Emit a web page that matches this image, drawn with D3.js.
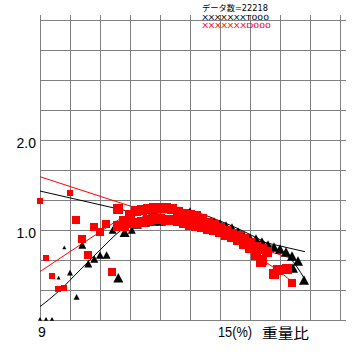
<!DOCTYPE html>
<html><head><meta charset="utf-8">
<script src="https://cdn.jsdelivr.net/npm/d3@7"></script>
<style>html,body{margin:0;padding:0;background:#fff;} svg{display:block;}</style>
</head><body>
<svg id="c" width="360" height="360"></svg>
<script>
// ---- data ----
const xDomain = [9, 19];
const yDomain = [0, 10 / 3];
const xGridValues = d3.range(9, 20, 1);
const yGridValues = d3.range(0, 11).map(i => i / 3);
const xTickValues = [9, 15];
const xTickLabels = ["9", "15(%)"];
const yTickValues = [1, 2];
const yTickLabels = ["1.0", "2.0"];
const xAxisTitle = "重量比";
const infoLines = ["データ数=22218", "XXXXXXXT000", "XXXXXXXD000"];
const infoColors = ["#000", "#000", "#f00"];

// [x, y, weight]
const redSquares = [
  [9.00,1.326,2],[10.00,1.408,2],[10.20,1.114,3],[10.80,1.037,3],[11.00,0.981,3],[11.20,1.070,3],
  [10.39,0.897,3],[9.20,0.692,2],[10.60,0.726,3],[9.40,0.489,2],[9.61,0.348,2],[9.79,0.359,2],
  [11.39,0.537,3],[11.59,1.233,4],[11.80,1.081,3],
  [11.6,1.044,4],
  [11.8,1.100,4],[11.8,1.044,4],
  [12.0,1.167,4],[12.0,1.078,4],
  [12.2,1.211,4],[12.2,1.078,4],
  [12.4,1.222,4],[12.4,1.089,4],
  [12.6,1.233,4],[12.6,1.111,4],
  [12.8,1.244,4],[12.8,1.122,4],
  [13.0,1.244,4],[13.0,1.122,4],
  [13.2,1.244,4],[13.2,1.111,4],
  [13.4,1.233,4],[13.4,1.111,4],
  [13.6,1.200,4],[13.6,1.100,4],
  [13.8,1.178,4],[13.8,1.078,4],
  [14.0,1.167,4],[14.0,1.056,4],
  [14.2,1.156,4],[14.2,1.044,4],
  [14.4,1.122,4],[14.4,1.033,4],
  [14.6,1.078,4],[14.6,1.011,4],
  [14.8,1.056,4],[14.8,1.000,4],
  [15.0,1.022,4],[15.0,0.978,4],
  [15.2,0.989,4],[15.2,0.944,4],
  [15.4,0.956,4],[15.4,0.922,4],
  [15.6,0.933,4],[15.6,0.889,4],
  [15.8,0.900,4],[15.8,0.844,4],
  [16.0,0.856,4],[16.0,0.800,4],
  [16.2,0.811,4],[16.2,0.722,4],
  [16.4,0.789,4],[16.4,0.667,4],
  [16.367,0.641,4],[16.577,0.759,4],[16.79,0.508,4],[16.943,0.556,4],[17.223,0.563,4],[17.4,0.408,3]
];

const blackTriangles = [
  [9.81,0.808,1],[9.62,0.47,1],[10.0,0.526,2],[10.22,0.256,2],
  [9.0,0.012,1],[9.2,0.012,1],[9.4,0.012,1],
  [10.41,0.833,3],[10.61,0.626,3],[10.81,0.678,3],[11.0,0.722,3],[11.22,0.722,3],
  [11.61,0.47,4],[11.42,1.0,3],[11.82,0.974,4],[12.06,1.0,3],
  [12.233,1.067,4],[12.5,1.089,4],[12.767,1.1,4],[13.033,1.1,4],[13.233,1.122,3],
  [13.633,1.222,3],[14.0,1.200,4],[14.2,1.156,4],[14.4,1.122,4],[14.6,1.089,4],
  [14.8,1.089,4],[15.0,1.067,4],[15.2,1.044,4],[15.4,1.022,4],[15.6,0.978,4],
  [15.8,0.933,4],[16.0,0.911,4],[16.2,0.9,4],[16.4,0.867,4],[16.6,0.833,4],
  [16.8,0.811,4],[17.0,0.789,4],[17.2,0.756,4],[17.4,0.711,4],[17.6,0.656,4],
  [17.433,0.578,4],[17.8,0.444,4]
];

const blackUpperLine = [[9, 1.433], [17.833, 0.759]];
const redUpperLine = [[9, 1.592], [17.433, 0.678]];
const blackLowerLine = [
  [9,0.148],[9.667,0.333],[10.333,0.556],[11.0,0.778],[11.667,0.989],[12.333,1.133],
  [13.0,1.19],[14.0,1.2],[15.0,1.1],[16.0,0.95],[16.833,0.8],[17.333,0.689],
  [17.567,0.589],[17.8,0.467]
];
const redLowerLine = [
  [9,0.537],[9.667,0.686],[10.333,0.833],[11.0,0.978],[11.667,1.122],[12.333,1.222],
  [13.0,1.25],[14.0,1.2],[15.0,1.05],[15.833,0.9],[16.433,0.667],[16.667,0.611],
  [17.0,0.533],[17.333,0.444]
];

// ---- drawing ----
const svg = d3.select("#c");
const x = d3.scaleLinear().domain(xDomain).range([40, 340]);
const y = d3.scaleLinear().domain(yDomain).range([320, 20]);
const sz = d3.scaleLinear().domain([1, 4]).range([4, 10]);
const grid = "#808080";

const g = svg.append("g").attr("shape-rendering", "crispEdges");
g.selectAll("line.v").data(xGridValues).join("line")
  .attr("x1", d => Math.round(x(d)) + 0.5).attr("x2", d => Math.round(x(d)) + 0.5)
  .attr("y1", y(yDomain[1]) - 5).attr("y2", y(0) + 0.5)
  .attr("stroke", grid).attr("stroke-width", 1);
g.selectAll("line.h").data(yGridValues).join("line")
  .attr("y1", d => Math.round(y(d)) + 0.5).attr("y2", d => Math.round(y(d)) + 0.5)
  .attr("x1", x(xDomain[0])).attr("x2", x(xDomain[1]) + 6)
  .attr("stroke", grid).attr("stroke-width", 1);

// tick labels
svg.selectAll("text.yt").data(yTickValues).join("text")
  .attr("x", 36).attr("y", d => y(d) + 8)
  .attr("text-anchor", "end")
  .attr("font-family", "Liberation Sans, Arial, sans-serif").attr("font-size", 14)
  .text((d, i) => yTickLabels[i]);
svg.selectAll("text.xt").data(xTickValues).join("text")
  .attr("x", d => x(d) - 2).attr("y", 337)
  .attr("font-family", "Liberation Sans, Arial, sans-serif").attr("font-size", 14)
  .each(function (d, i) {
    const t = d3.select(this).text(xTickLabels[i]);
    if (i === 1) t.attr("textLength", 34).attr("lengthAdjust", "spacingAndGlyphs");
  });
svg.append("text").attr("x", x(15) + 42).attr("y", 337.5)
  .attr("font-family", "Noto Sans CJK JP, sans-serif").attr("font-size", 14)
  .attr("textLength", 47).attr("lengthAdjust", "spacingAndGlyphs")
  .text(xAxisTitle);

// info text
const infoY = [11, 19.6, 27.8];
const infoLen = [66, 67, 69];
const infoSize = [8.5, 7, 7];
infoLines.forEach((s, i) => {
  svg.append("text").attr("x", 202).attr("y", infoY[i])
    .attr("font-family", "DejaVu Sans, Noto Sans CJK JP, sans-serif")
    .attr("font-size", infoSize[i]).attr("fill", infoColors[i])
    .attr("textLength", infoLen[i]).attr("lengthAdjust", "spacingAndGlyphs")
    .text(s);
});

// lines
const line = d3.line().x(d => x(d[0])).y(d => y(d[1]));
const cline = d3.line().x(d => x(d[0])).y(d => y(d[1])).curve(d3.curveMonotoneX);
svg.append("path").attr("d", line(blackUpperLine)).attr("fill", "none").attr("stroke", "#000").attr("stroke-width", 1);
svg.append("path").attr("d", line(redUpperLine)).attr("fill", "none").attr("stroke", "#f00").attr("stroke-width", 1);
svg.append("path").attr("d", cline(blackLowerLine)).attr("fill", "none").attr("stroke", "#000").attr("stroke-width", 1);
svg.append("path").attr("d", cline(redLowerLine)).attr("fill", "none").attr("stroke", "#f00").attr("stroke-width", 1);

// triangles
svg.append("g").selectAll("path").data(blackTriangles).join("path")
  .attr("d", d => {
    const s = sz(d[2]), h = s * 0.95, cx = x(d[0]), cy = y(d[1]);
    return `M${cx},${cy - h / 2}L${cx + s / 2},${cy + h / 2}L${cx - s / 2},${cy + h / 2}Z`;
  })
  .attr("fill", "#000");

// squares
svg.append("g").attr("shape-rendering", "crispEdges").selectAll("rect").data(redSquares).join("rect")
  .attr("x", d => x(d[0]) - sz(d[2]) / 2).attr("y", d => y(d[1]) - sz(d[2]) / 2)
  .attr("width", d => sz(d[2])).attr("height", d => sz(d[2]))
  .attr("fill", "#f00");
</script>
</body></html>
